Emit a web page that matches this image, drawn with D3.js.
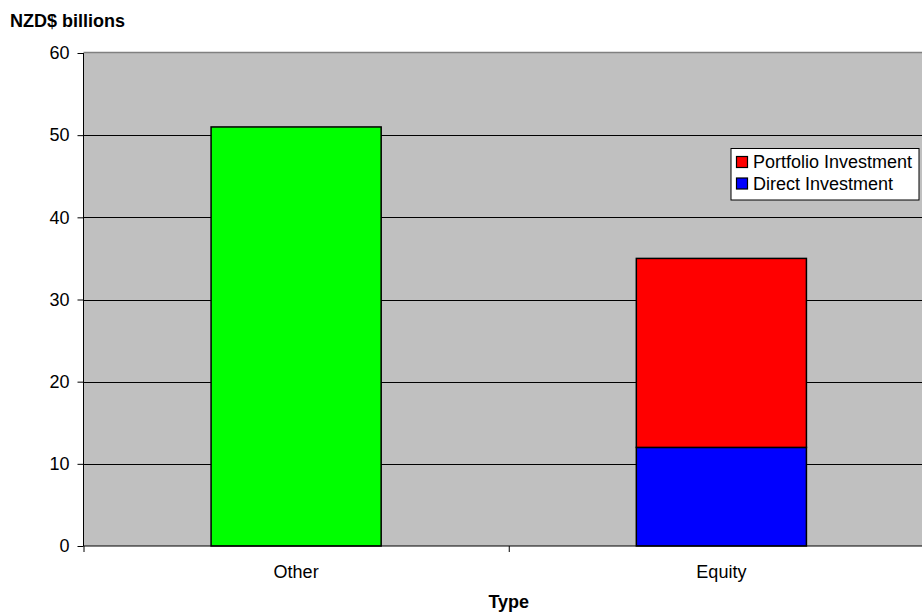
<!DOCTYPE html>
<html>
<head>
<meta charset="utf-8">
<script src="https://cdn.jsdelivr.net/npm/d3@7"></script>
<style>
  html, body { margin: 0; padding: 0; background: #fff; }
  svg { display: block; font-family: "Liberation Sans", Arial, sans-serif; }
</style>
</head>
<body>
<svg id="chart" width="922" height="612"></svg>
<script>
const categories = ["Other", "Equity"];
const otherValues = [51, 0];
const directValues = [0, 12];
const portfolioValues = [0, 23];
const yTicks = [0, 10, 20, 30, 40, 50, 60];
const yTitle = "NZD$ billions";
const xTitle = "Type";
const seriesNames = ["Other", "Direct Investment", "Portfolio Investment"];
const legendNames = ["Portfolio Investment", "Direct Investment"];

const colors = {"Other": "#00ff00", "Direct Investment": "#0000ff", "Portfolio Investment": "#ff0000"};

const svg = d3.select("#chart");
const plot = {left: 83.5, right: 934, top: 53, bottom: 546};

const rows = categories.map((c, i) => ({
  cat: c,
  "Other": otherValues[i],
  "Direct Investment": directValues[i],
  "Portfolio Investment": portfolioValues[i]
}));

const x = d3.scaleBand().domain(categories).range([plot.left, plot.right])
  .paddingInner(0.6).paddingOuter(0.3);
const xb = d3.scaleLinear().domain([0, categories.length]).range([plot.left, plot.right]);
const y = d3.scaleLinear().domain([0, 60]).range([plot.bottom, plot.top]);

// plot background
svg.append("rect")
  .attr("x", plot.left).attr("y", plot.top)
  .attr("width", plot.right - plot.left).attr("height", plot.bottom - plot.top)
  .attr("fill", "#c0c0c0");

// gridlines
svg.append("g").selectAll("line")
  .data(yTicks.filter(t => t > 0 && t < 60))
  .join("line")
  .attr("x1", plot.left).attr("x2", plot.right)
  .attr("y1", d => Math.round(y(d)) + 0.5).attr("y2", d => Math.round(y(d)) + 0.5)
  .attr("stroke", "#000").attr("stroke-width", 1);

// top border
svg.append("line")
  .attr("x1", plot.left).attr("x2", plot.right)
  .attr("y1", plot.top - 0.5).attr("y2", plot.top - 0.5)
  .attr("stroke", "#808080").attr("stroke-width", 1.5);

// stacked bars
const stack = d3.stack().keys(seriesNames)(rows);
svg.append("g").selectAll("g")
  .data(stack)
  .join("g")
  .attr("fill", d => colors[d.key])
  .selectAll("rect")
  .data(d => d.filter(s => s[1] - s[0] > 0))
  .join("rect")
  .attr("x", d => x(d.data.cat))
  .attr("y", d => y(d[1]))
  .attr("width", x.bandwidth())
  .attr("height", d => y(d[0]) - y(d[1]))
  .attr("stroke", "#000")
  .attr("stroke-width", 1.5);

// y axis
const yAxis = d3.axisLeft(y).tickValues(yTicks).tickSize(6).tickPadding(8).tickFormat(d3.format("d"));
const gy = svg.append("g").attr("transform", `translate(${plot.left},0)`).call(yAxis);
gy.select(".domain").attr("stroke", "#000").attr("d", `M0,${plot.top}V${plot.bottom}`);
gy.selectAll(".tick line").attr("stroke", "#000");
gy.selectAll(".tick text").attr("font-size", "18px").attr("fill", "#000")
  .attr("font-family", "Liberation Sans, Arial, sans-serif");

// x axis line and boundary ticks
const xAxis = d3.axisBottom(xb).tickValues(d3.range(0, categories.length + 1)).tickSize(6).tickFormat("");
const gx = svg.append("g").attr("transform", `translate(0,${plot.bottom})`).call(xAxis);
gx.select(".domain").attr("stroke", "#000").attr("d", `M${plot.left},0H${plot.right}`);
gx.selectAll(".tick line").attr("stroke", "#000");

// category labels
const xLab = d3.axisBottom(x).tickSize(0).tickPadding(0);
const gl = svg.append("g").attr("transform", `translate(0,${plot.bottom})`).call(xLab);
gl.select(".domain").remove();
gl.selectAll(".tick text").attr("font-size", "18px").attr("fill", "#000")
  .attr("font-family", "Liberation Sans, Arial, sans-serif")
  .attr("dy", null).attr("y", 32);

// titles
svg.append("text").attr("x", 10).attr("y", 27)
  .attr("font-size", "18px").attr("font-weight", "bold").text(yTitle);
svg.append("text").attr("x", (plot.left + plot.right) / 2).attr("y", 608)
  .attr("text-anchor", "middle")
  .attr("font-size", "18px").attr("font-weight", "bold").text(xTitle);

// legend
const lg = svg.append("g").attr("transform", "translate(731,148.5)");
lg.append("rect").attr("x", 0).attr("y", 0).attr("width", 188).attr("height", 51.5)
  .attr("fill", "#fff").attr("stroke", "#000").attr("stroke-width", 1);
const items = lg.selectAll("g.item").data(legendNames).join("g")
  .attr("class", "item")
  .attr("transform", (d, i) => `translate(5.5,${8 + i * 21.5})`);
items.append("rect").attr("width", 11).attr("height", 11)
  .attr("fill", d => colors[d]).attr("stroke", "#000").attr("stroke-width", 1.2);
items.append("text").attr("x", 16.5).attr("y", 11.5)
  .attr("font-size", "18px").attr("fill", "#000").text(d => d);
</script>
</body>
</html>
